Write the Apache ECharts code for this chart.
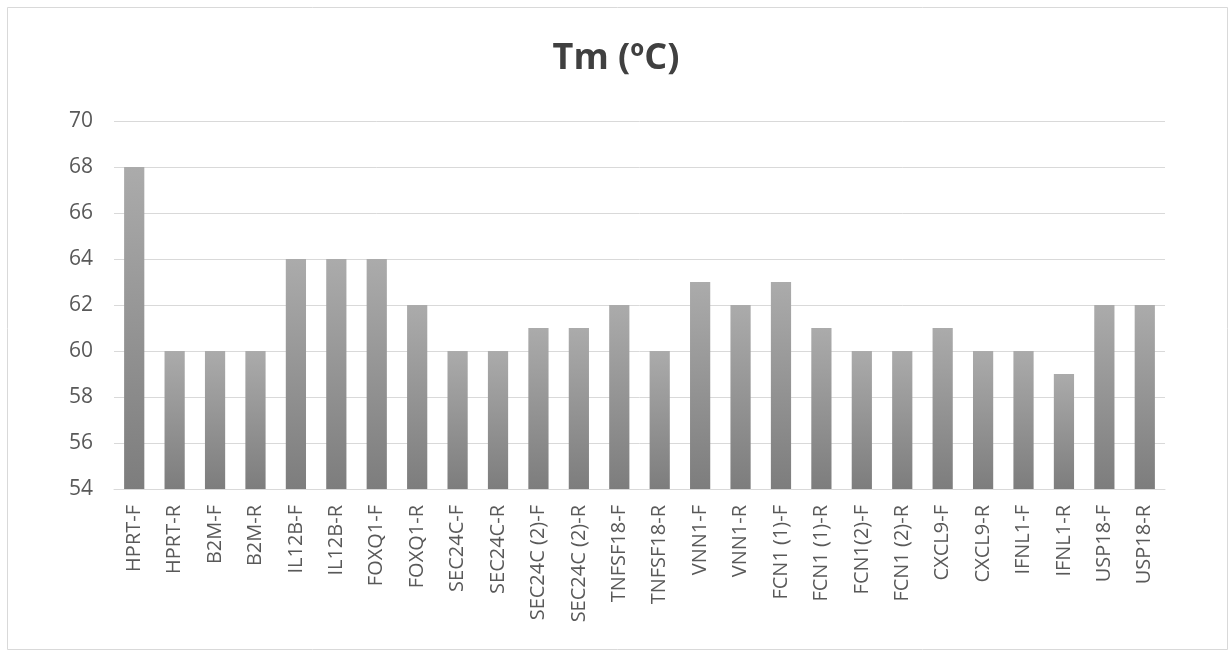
<!DOCTYPE html>
<html>
<head>
<meta charset="utf-8">
<script src="https://cdn.jsdelivr.net/npm/echarts@6/dist/echarts.min.js"></script>
<style>
  html, body { margin: 0; padding: 0; background: #fff; }
  #chart { width: 1232px; height: 655px; }
</style>
</head>
<body>
<div id="chart"></div>
<script>
// Primer melting temperatures
const primers = [
  "HPRT-F", "HPRT-R", "B2M-F", "B2M-R", "IL12B-F", "IL12B-R", "FOXQ1-F", "FOXQ1-R",
  "SEC24C-F", "SEC24C-R", "SEC24C (2)-F", "SEC24C (2)-R", "TNFSF18-F", "TNFSF18-R",
  "VNN1-F", "VNN1-R", "FCN1 (1)-F", "FCN1 (1)-R", "FCN1(2)-F", "FCN1 (2)-R",
  "CXCL9-F", "CXCL9-R", "IFNL1-F", "IFNL1-R", "USP18-F", "USP18-R"
];
const tm = [
  68, 60, 60, 60, 64, 64, 64, 62,
  60, 60, 61, 61, 62, 60,
  63, 62, 63, 61, 60, 60,
  61, 60, 60, 59, 62, 62
];
const yMin = 54, yMax = 70, yStep = 2;

const chart = echarts.init(document.getElementById('chart'));
chart.setOption({
  animation: false,
  backgroundColor: '#ffffff',
  title: {
    text: 'Tm (ºC)',
    left: 'center',
    top: 36,
    textStyle: { fontFamily: 'Open Sans', fontSize: 36, fontWeight: 'bold', color: '#404040' }
  },
  graphic: [{
    type: 'rect',
    shape: { x: 7.5, y: 7.5, width: 1220, height: 642 },
    style: { fill: 'none', stroke: '#d9d9d9', lineWidth: 1 },
    silent: true,
    z: -1
  }],
  grid: { left: 114, right: 67, top: 121, bottom: 166 },
  xAxis: {
    type: 'category',
    data: primers,
    axisLine: { lineStyle: { color: '#d9d9d9', width: 1 } },
    axisTick: { show: false },
    axisLabel: {
      rotate: 90,
      interval: 0,
      margin: 16,
      fontFamily: 'Open Sans',
      fontSize: 20,
      color: '#595959'
    }
  },
  yAxis: {
    type: 'value',
    min: yMin,
    max: yMax,
    interval: yStep,
    axisLine: { show: false },
    axisTick: { show: false },
    splitLine: { lineStyle: { color: '#d9d9d9', width: 1 } },
    axisLabel: {
      margin: 21,
      fontFamily: 'Open Sans',
      fontSize: 21,
      color: '#595959'
    }
  },
  series: [{
    type: 'bar',
    data: tm,
    barWidth: '50%',
    itemStyle: {
      color: new echarts.graphic.LinearGradient(0, 0, 0, 1, [
        { offset: 0, color: '#ababab' },
        { offset: 1, color: '#7d7d7d' }
      ])
    }
  }]
});
</script>
</body>
</html>
